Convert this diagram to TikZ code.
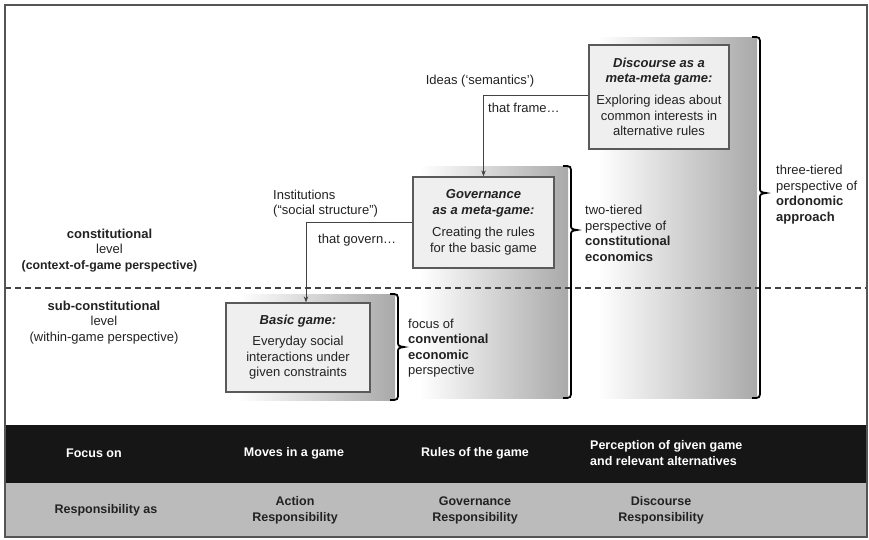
\documentclass[tikz,border=0pt]{standalone}
\usepackage{fontspec}
\setmainfont{Liberation Sans}
\usetikzlibrary{arrows.meta}

\definecolor{ink}{HTML}{222222}
\definecolor{frameline}{HTML}{555555}
\definecolor{boxline}{HTML}{5A5A5A}
\definecolor{boxfill}{HTML}{EFEFEF}
\definecolor{shadeend}{HTML}{A9A9A9}
\definecolor{darkband}{HTML}{161616}
\definecolor{lightband}{HTML}{BBBBBB}

\newcommand{\bodyfont}{\fontsize{13}{15.5}\selectfont}
\newcommand{\bandfont}{\fontsize{12.5}{16}\selectfont\bfseries}

\begin{document}
\begin{tikzpicture}[x=1pt,y=-1pt,
  gamebox/.style={draw=boxline, line width=1.3pt, fill=boxfill, inner sep=0pt,
    align=center, text=ink, font=\bodyfont},
  label/.style={inner sep=0pt, text=ink, font=\bodyfont},
  bandtext/.style={inner sep=0pt, font=\bandfont, align=center},
  conn/.style={draw=ink!85, line width=0.9pt, -{Stealth[length=6pt,width=4.5pt]}},
  bracebar/.style={draw=black, line width=1.8pt},
  column/.style={left color=white, right color=shadeend}
]
\useasboundingbox (0,0) rectangle (869,539);

% graded columns behind each game box
\shade[column] (598,37) rectangle (757,398);
\shade[column] (420,166) rectangle (568,398);
\shade[column] (238,294) rectangle (395,400);

% level divider
\draw[draw=ink!85, line width=1.5pt, dash pattern=on 6pt off 4pt] (5,288) -- (867,288);

% the three games
\node[gamebox, minimum width=144pt, minimum height=89pt] (basic) at (298,347.5)
  {\textbf{\itshape Basic game:}\\[5.5pt]Everyday social\\interactions under\\given constraints};
\node[gamebox, minimum width=141pt, minimum height=91pt] (gov) at (483.5,222.5)
  {\textbf{\itshape Governance}\\\textbf{\itshape as a meta-game:}\\[7pt]Creating the rules\\for the basic game};
\node[gamebox, minimum width=140pt, minimum height=104pt] (disc) at (659,97)
  {\textbf{\itshape Discourse as a}\\\textbf{\itshape meta-meta game:}\\[6.5pt]Exploring ideas about\\common interests in\\alternative rules};

% braces: top end, pointed tip, bottom end
\draw[bracebar] (390,294) .. controls (398,294) .. (398,302) -- (398,341)
  .. controls (398,346) .. (404,347) .. controls (398,348) .. (398,353)
  -- (398,392) .. controls (398,400) .. (390,400);
\draw[bracebar] (563,166) .. controls (571,166) .. (571,174) -- (571,224)
  .. controls (571,229) .. (577,230) .. controls (571,231) .. (571,236)
  -- (571,390) .. controls (571,398) .. (563,398);
\draw[bracebar] (752,37) .. controls (760,37) .. (760,45) -- (760,187)
  .. controls (760,192) .. (766,193) .. controls (760,194) .. (760,199)
  -- (760,390) .. controls (760,398) .. (752,398);

% connectors between the games
\draw[conn] ([yshift=2pt]disc.west) -| (gov.north);
\draw[conn] (gov.west) -| ([xshift=8pt]basic.north);

\node[label] (ideas) at (480,81) {Ideas (‘semantics’)};
\node[label, anchor=west] (frame) at (488,108) {that frame…};
\node[label, anchor=west, align=left] (inst) at (273,203.5) {Institutions\\(“social structure”)};
\node[label, anchor=west] (govern) at (318,240) {that govern…};

% perspectives
\node[label, anchor=west, align=left] (focus) at (408,348)
  {focus of\\\textbf{conventional}\\\textbf{economic}\\perspective};
\node[label, anchor=west, align=left] (twotier) at (585,233.5)
  {two-tiered\\perspective of\\\textbf{constitutional}\\\textbf{economics}};
\node[label, anchor=west, align=left] (threetier) at (776,194.5)
  {three-tiered\\perspective of\\\textbf{ordonomic}\\\textbf{approach}};

% levels
\node[label, align=center] (const) at (109.5,250.5)
  {\textbf{constitutional}\\level\\{\fontsize{12.3}{15.5}\selectfont\bfseries (context-of-game perspective)}};
\node[label, align=center] (subconst) at (104,322.5)
  {\textbf{sub-constitutional}\\level\\(within-game perspective)};

% bottom table
\fill[darkband] (5,425) rectangle (867,483);
\fill[lightband] (5,483) rectangle (867,537);
\draw[frameline, line width=1.3pt] (5,5) rectangle (867,537);

\node[bandtext, text=white] (focuson) at (94,453) {Focus on};
\node[bandtext, text=white] (moves) at (294,453) {Moves in a game};
\node[bandtext, text=white] (rules) at (475,453) {Rules of the game};
\node[bandtext, text=white, anchor=west, align=left] (percep) at (590,453)
  {Perception of given game\\and relevant alternatives};

\node[bandtext, text=ink] (respas) at (106,510) {Responsibility as};
\node[bandtext, text=ink] (action) at (295,510) {Action\\Responsibility};
\node[bandtext, text=ink] (govresp) at (475,510) {Governance\\Responsibility};
\node[bandtext, text=ink] (discresp) at (661,510) {Discourse\\Responsibility};
\end{tikzpicture}
\end{document}
